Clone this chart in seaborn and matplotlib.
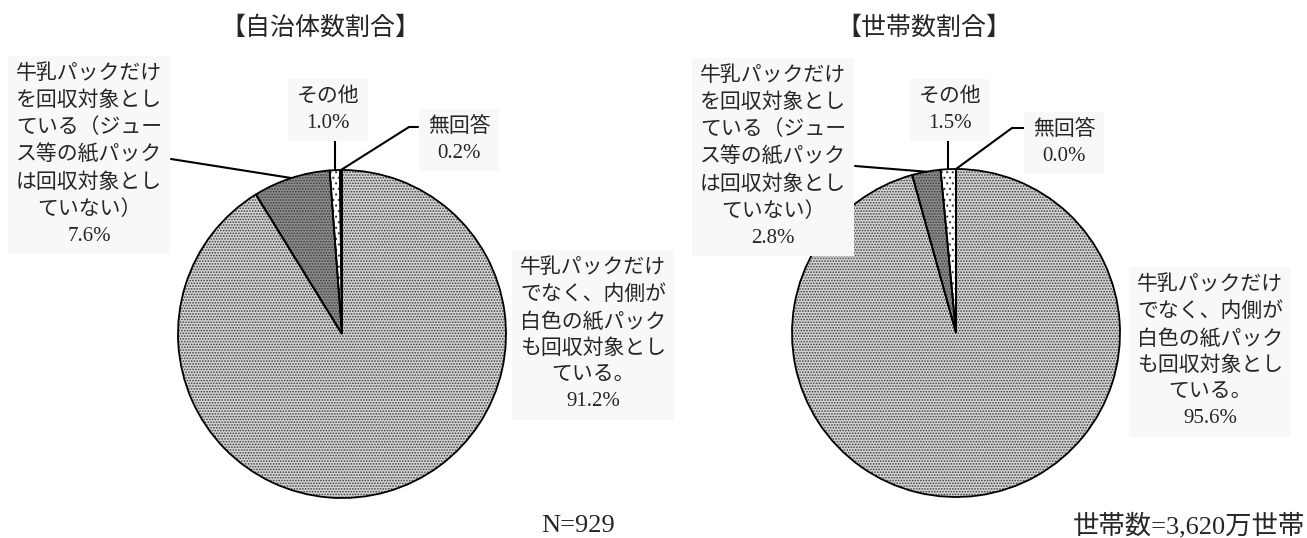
import numpy as np
import matplotlib.pyplot as plt
import seaborn as sns

sns.set_theme(style="white")
plt.rcParams['font.family'] = ['Liberation Serif', 'Noto Sans CJK JP']
plt.rcParams['hatch.color'] = '#3c3c3c'
plt.rcParams['hatch.linewidth'] = 0.8

# data
titles = ["【自治体数割合】", "【世帯数割合】"]
categories = [
    "牛乳パックだけ\nでなく、内側が\n白色の紙パック\nも回収対象とし\nている。",
    "牛乳パックだけ\nを回収対象とし\nている（ジュー\nス等の紙パック\nは回収対象とし\nていない）",
    "その他",
    "無回答",
]
muni_share = [91.2, 7.6, 1.0, 0.2]
household_share = [95.6, 2.8, 1.5, 0.0]
footnotes = ["N=929", "世帯数=3,620万世帯"]

# styles
fills = ['#d4d4d4', '#8c8c8c', '#ffffff', '#000000']
hatches = ['......', '......', '...', '']
W, H = 1307, 538
R = 164
BOX = dict(boxstyle='square,pad=0.4', fc='#f8f8f8', ec='none')


def Y(y):
    return H - y


fig = plt.figure(figsize=(W / 100, H / 100), dpi=100)
ax = fig.add_axes([0, 0, 1, 1])


def draw_pie(values, cx, cy):
    wedges, _ = ax.pie(values, colors=fills, hatch=hatches, startangle=90,
                       counterclock=False, center=(cx, Y(cy)), radius=R,
                       frame=True, normalize=True,
                       wedgeprops=dict(linewidth=0, edgecolor='#3c3c3c'))
    ax.pie(values, startangle=90, counterclock=False, center=(cx, Y(cy)),
           radius=R, frame=True, normalize=True,
           wedgeprops=dict(fill=False, edgecolor='black', linewidth=1.3))
    pts = []
    for w in wedges:
        a = np.deg2rad((w.theta1 + w.theta2) / 2)
        pts.append((cx + R * np.cos(a), Y(cy) + R * np.sin(a)))
    return pts


def label(x, y, text):
    ax.text(x, Y(y), text, ha='center', va='center', fontsize=15,
            linespacing=1.5, multialignment='center', bbox=BOX, zorder=5)


def leader(points):
    xs = [p[0] for p in points]
    ys = [p[1] for p in points]
    ax.plot(xs, ys, color='black', lw=1.5, zorder=4)


# left pie
cx, cy = 342, 334
pts = draw_pie(muni_share, cx, cy)
pct = [f"{v:.1f}%" for v in muni_share]
label(593, 335, categories[0] + "\n" + pct[0])
label(89, 155, categories[1] + "\n" + pct[1])
label(328, 110, categories[2] + "\n" + pct[2])
label(459, 140, categories[3] + "\n" + pct[3])
leader([(171, Y(159)), pts[1]])
leader([(pts[2][0], Y(138)), pts[2]])
leader([(418, Y(127)), (409, Y(127)), pts[3]])
ax.text(320, Y(28), titles[0], ha='center', va='center', fontsize=18,
        family=['Noto Sans CJK JP'])
ax.text(578, Y(526), footnotes[0], ha='center', va='center', fontsize=19)

# right pie
cx, cy = 956, 333
pts = draw_pie(household_share, cx, cy)
pct = [f"{v:.1f}%" for v in household_share]
label(1210, 352, categories[0] + "\n" + pct[0])
label(773, 157, categories[1] + "\n" + pct[1])
label(950, 110, categories[2] + "\n" + pct[2])
label(1064, 143, categories[3] + "\n" + pct[3])
leader([(855, Y(166)), pts[1]])
leader([(pts[2][0], Y(136)), pts[2]])
leader([(1026, Y(128)), (1012, Y(128)), pts[3]])
ax.text(924, Y(28), titles[1], ha='center', va='center', fontsize=18,
        family=['Noto Sans CJK JP'])
ax.text(1305, Y(526), footnotes[1], ha='right', va='center', fontsize=19)

ax.set_xlim(0, W)
ax.set_ylim(0, H)
ax.set_aspect('equal')
ax.axis('off')

fig.savefig("out.png", dpi=100, facecolor='white')
